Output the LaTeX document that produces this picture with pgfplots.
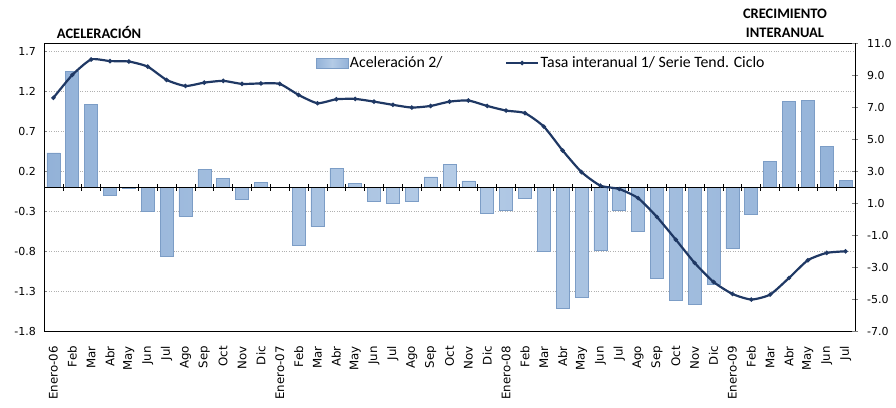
\documentclass[border=0pt]{standalone}
\usepackage{pgfplots}
\pgfplotsset{compat=1.18}
\usepackage{fontspec}
\setmainfont{Carlito}
\newfontfamily\dejavu{DejaVu Sans}
\definecolor{barblue}{HTML}{93B2D8}
\definecolor{baredge}{HTML}{7C9DC6}
\definecolor{barlight}{HTML}{B4CBE6}
\definecolor{navy}{HTML}{1F3864}
\definecolor{gridc}{HTML}{B0B0B0}
\tikzset{
  barsty/.style={draw=baredge,line width=0.6pt,left color=barblue,right color=barblue,middle color=barlight},
}
\pgfplotsset{
  base/.style={
    scale only axis, width=811pt, height=287.5pt,
    at={(44pt,76pt)}, anchor=south west,
    xmin=-0.5, xmax=42.5, enlargelimits=false,
    /pgf/number format/assume math mode=true,
  }
}
\begin{document}
\begin{tikzpicture}[x=1pt,y=1pt]
\useasboundingbox (0,0) rectangle (896,407);
% bars, left axis
\begin{axis}[base,
  ymin=-1.8, ymax=1.8,
  ytick={-1.8,-1.3,-0.8,-0.3,0.2,0.7,1.2,1.7},
  ytick pos=left, tick align=inside, major tick length=3pt,
  yticklabel style={font=\dejavu\fontsize{11}{13}\selectfont,anchor=east,inner sep=0pt,xshift=-8pt},
  /pgf/number format/.cd, fixed, fixed zerofill, precision=1, /pgfplots/.cd,
  ymajorgrids, grid style={dotted,draw=gridc,line width=0.7pt},
  xtick={0,...,42}, xtick style={draw=none},
  xticklabels={Enero-06,Feb,Mar,Abr,May,Jun,Jul,Ago,Sep,Oct,Nov,Dic,
    Enero-07,Feb,Mar,Abr,May,Jun,Jul,Ago,Sep,Oct,Nov,Dic,
    Enero-08,Feb,Mar,Abr,May,Jun,Jul,Ago,Sep,Oct,Nov,Dic,
    Enero-09,Feb,Mar,Abr,May,Jun,Jul},
  xticklabel style={font=\dejavu\fontsize{11.8}{13}\selectfont,rotate=90,anchor=east,inner sep=0pt},
  xticklabel shift=12pt,
  axis line style={line width=1pt},
  ybar, bar width=13pt,
]
\addplot[barsty] coordinates {
(0,0.43) (1,1.45) (2,1.04) (3,-0.10) (4,-0.01) (5,-0.30) (6,-0.87) (7,-0.36) (8,0.22) (9,0.11)
(10,-0.15) (11,0.06) (12,0.00) (13,-0.73) (14,-0.49) (15,0.24) (16,0.05) (17,-0.17) (18,-0.20) (19,-0.17)
(20,0.13) (21,0.29) (22,0.08) (23,-0.33) (24,-0.29) (25,-0.14) (26,-0.80) (27,-1.51) (28,-1.38) (29,-0.79)
(30,-0.29) (31,-0.55) (32,-1.14) (33,-1.42) (34,-1.47) (35,-1.21) (36,-0.77) (37,-0.34) (38,0.32) (39,1.08)
(40,1.09) (41,0.51) (42,0.09)};
\end{axis}
% zero line with category ticks
\begin{axis}[base,
  ymin=-1.8, ymax=1.8,
  axis x line=middle, axis y line=none,
  axis line style={-,black,line width=0.9pt},
  xtick={0.5,1.5,...,41.5}, xticklabels={},
  tick align=center, major tick length=7pt, tick style={black,line width=0.7pt},
]
\end{axis}
% line, right axis
\begin{axis}[base,
  ymin=-7, ymax=11, ytick={-7,-5,...,11},
  axis x line=none, axis y line*=right,
  axis line style={-,line width=1pt},
  tick align=center, major tick length=6pt,
  yticklabel style={font=\dejavu\fontsize{11}{13}\selectfont,anchor=west,inner sep=0pt,xshift=9pt},
  /pgf/number format/.cd, fixed, fixed zerofill, precision=1, /pgfplots/.cd,
  legend columns=2,
  legend style={draw=none,fill=none,inner sep=0pt,at={(0.335,0.932)},anchor=west,
    font=\fontsize{15.8}{18}\selectfont,nodes={inner sep=1.5pt},
    /tikz/every even column/.append style={column sep=61pt}},
]
\addlegendimage{legend image code/.code={\draw[barsty] (0pt,-5pt) rectangle (32pt,5pt);}}
\addlegendentry{Aceleración 2/}
\addplot[navy,line width=2.2pt,smooth,tension=0.35,mark=*,mark size=0.9pt,
  legend image code/.code={\draw[navy,line width=2.2pt] (0pt,0pt) -- (32pt,0pt); \fill[navy] (16pt,0pt) circle (0.9pt);}]
coordinates {
(0,7.6) (1,9.03) (2,10.0) (3,9.9) (4,9.87) (5,9.55) (6,8.72) (7,8.34) (8,8.55) (9,8.66)
(10,8.47) (11,8.5) (12,8.47) (13,7.78) (14,7.26) (15,7.51) (16,7.53) (17,7.36) (18,7.16) (19,6.99)
(20,7.09) (21,7.36) (22,7.43) (23,7.09) (24,6.8) (25,6.64) (26,5.8) (27,4.3) (28,2.95) (29,2.1)
(30,1.89) (31,1.32) (32,0.14) (33,-1.28) (34,-2.74) (35,-3.93) (36,-4.68) (37,-5.03) (38,-4.72) (39,-3.68)
(40,-2.57) (41,-2.11) (42,-2.01)};
\addlegendentry{Tasa interanual 1/ Serie Tend. Ciclo}
\end{axis}
\node[font=\bfseries\fontsize{14.5}{17}\selectfont] at (99,374.5) {ACELERACIÓN};
\node[font=\bfseries\fontsize{14.5}{18.5}\selectfont,align=center] at (785,383.75) {CRECIMIENTO\\INTERANUAL};
\end{tikzpicture}
\end{document}
